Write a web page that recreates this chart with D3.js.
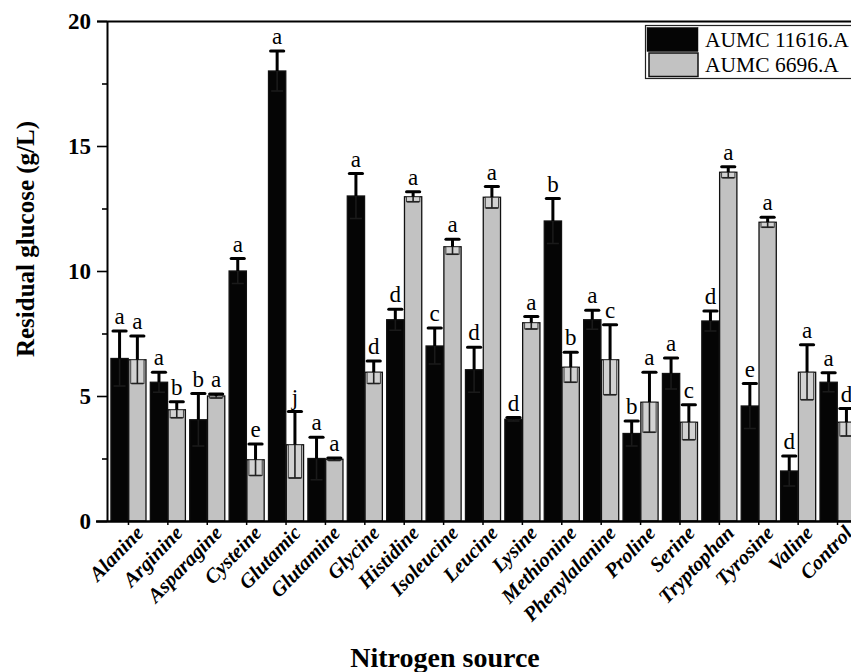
<!DOCTYPE html>
<html><head><meta charset="utf-8">
<script src="https://cdn.jsdelivr.net/npm/d3@7"></script>
<style>body{margin:0;background:#fff} svg{display:block}</style>
</head><body><svg id="chart" width="851" height="672"></svg>
<script>
// Residual glucose per nitrogen source for two fungal strains (mean ± SD, letters = significance groups)
const categories = ["Alanine","Arginine","Asparagine","Cysteine","Glutamic","Glutamine","Glycine","Histidine","Isoleucine","Leucine","Lysine","Methionine","Phenylalanine","Proline","Serine","Tryptophan","Tyrosine","Valine","Control"];
const seriesNames = ["AUMC 11616.A","AUMC 6696.A"];
const strainA = [6.5,5.55,4.05,10.0,18.0,2.5,13.0,8.05,7.0,6.05,4.07,12.0,8.05,3.5,5.9,8.0,4.6,2.0,5.55];
const strainAErr = [1.1,0.4,1.05,0.5,0.8,0.85,0.9,0.42,0.72,0.9,0.07,0.9,0.38,0.5,0.62,0.4,0.9,0.6,0.38];
const strainALetters = ["a","a","b","a","a","a","a","d","c","d","d","b","a","b","a","d","e","d","a"];
const strainB = [6.45,4.45,5.0,2.45,3.05,2.47,5.95,12.97,10.97,12.95,7.93,6.15,6.45,4.75,3.95,13.95,11.95,5.95,3.95];
const strainBErr = [0.95,0.32,0.08,0.63,1.33,0.05,0.45,0.2,0.3,0.43,0.25,0.6,1.4,1.2,0.7,0.22,0.2,1.1,0.55];
const strainBLetters = ["a","b","a","e","j","a","d","a","a","a","a","b","c","a","c","a","a","a","d"];
const yTicks = [0,5,10,15,20];
const yMinorTicks = [2.5,7.5,12.5,17.5];
const seriesColors = ["#050505","#c2c2c2"];

const svg = d3.select("#chart");
const serif = "'Liberation Serif','Times New Roman',serif";
const plotLeft = 107, plotTop = 21, plotBottom = 521;

const x = d3.scaleBand().domain(categories).range([plotLeft, 859]).paddingInner(0.11).paddingOuter(0.1);
const xs = d3.scaleBand().domain([0,1]).range([0, x.bandwidth()]).paddingInner(0.03);
const y = d3.scaleLinear().domain([0,20]).range([plotBottom, plotTop]);

const series = [
  {vals: strainA, err: strainAErr, letters: strainALetters},
  {vals: strainB, err: strainBErr, letters: strainBLetters}
];

// frame top line
svg.append("line").attr("x1", 97).attr("x2", 851).attr("y1", y(20)+0.5).attr("y2", y(20)+0.5)
  .attr("stroke", "#000").attr("stroke-width", 2);

// bars
const g = svg.append("g");
series.forEach((s, si) => {
  categories.forEach((c, i) => {
    const bx = x(c) + xs(si), bw = xs.bandwidth();
    const v = s.vals[i], e = s.err[i];
    const cx = bx + bw / 2;
    g.append("rect").attr("x", bx).attr("y", y(v)).attr("width", bw).attr("height", y(0) - y(v))
      .attr("fill", seriesColors[si]).attr("stroke", "#111").attr("stroke-width", 1.3);
    // lower half of the error bar
    if (si === 1) {
      g.append("rect").attr("x", bx + 2).attr("y", y(v)).attr("width", bw - 4).attr("height", y(v - e) - y(v))
        .attr("fill", "#d2d2d2").attr("stroke", "#333").attr("stroke-width", 0.9);
    }
    g.append("line").attr("x1", cx).attr("x2", cx).attr("y1", y(v)).attr("y2", y(v - e))
      .attr("stroke", si ? "#222" : "#1a1a1a").attr("stroke-width", 1.6);
    g.append("line").attr("x1", cx - 6).attr("x2", cx + 6).attr("y1", y(v - e)).attr("y2", y(v - e))
      .attr("stroke", si ? "#222" : "#1a1a1a").attr("stroke-width", 1.6);
    // upper half
    g.append("line").attr("x1", cx).attr("x2", cx).attr("y1", y(v)).attr("y2", y(v + e))
      .attr("stroke", "#000").attr("stroke-width", 3);
    g.append("line").attr("x1", cx - 6.5).attr("x2", cx + 6.5).attr("y1", y(v + e)).attr("y2", y(v + e))
      .attr("stroke", "#000").attr("stroke-width", 3.2).attr("stroke-linecap", "round");
    g.append("text").attr("x", cx).attr("y", y(v + e) - 7).attr("text-anchor", "middle")
      .attr("font-family", serif).attr("font-size", 23).attr("fill", "#000").text(s.letters[i]);
  });
});

// y axis
const yAxis = d3.axisLeft(y).tickValues(yTicks).tickSize(10).tickSizeOuter(0).tickPadding(6).tickFormat(d3.format("d"));
const ya = svg.append("g").attr("transform", `translate(${plotLeft},0)`).call(yAxis);
ya.select(".domain").attr("stroke-width", 2);
ya.selectAll(".tick line").attr("stroke-width", 1.6);
ya.selectAll("text").attr("font-family", serif).attr("font-size", 23).attr("font-weight", "bold").attr("fill", "#000");
svg.append("g").attr("transform", `translate(${plotLeft},0)`)
  .call(d3.axisLeft(y).tickValues(yMinorTicks).tickSize(5).tickFormat(""))
  .call(a => a.select(".domain").remove())
  .selectAll(".tick line").attr("stroke-width", 1.6);

// x axis
const xAxis = d3.axisBottom(x).tickSize(4).tickSizeOuter(0);
const xa = svg.append("g").attr("transform", `translate(0,${plotBottom})`).call(xAxis);
xa.select(".domain").attr("stroke-width", 2.5).attr("d", `M96,0.5H851`);
xa.selectAll(".tick line").attr("stroke-width", 1.5);
xa.selectAll("text")
  .attr("x", 0).attr("y", 0).attr("dy", 0)
  .attr("font-family", serif).attr("font-size", 20.5).attr("font-weight", "bold").attr("font-style", "italic")
  .attr("fill", "#000").attr("text-anchor", "end")
  .attr("transform", "translate(16,13) rotate(-46)");

// axis titles
svg.append("text").attr("transform", `translate(34,${(plotTop + plotBottom) / 2 - 32}) rotate(-90)`)
  .attr("text-anchor", "middle").attr("font-family", serif).attr("font-size", 25).attr("font-weight", "bold")
  .text("Residual glucose (g/L)");
svg.append("text").attr("x", 445).attr("y", 667).attr("text-anchor", "middle")
  .attr("font-family", serif).attr("font-size", 28).attr("font-weight", "bold").text("Nitrogen source");

// legend
const lg = svg.append("g");
lg.append("rect").attr("x", 645.5).attr("y", 25.5).attr("width", 220).attr("height", 53)
  .attr("fill", "#fff").attr("stroke", "#222").attr("stroke-width", 1.2);
seriesNames.forEach((n, i) => {
  lg.append("rect").attr("x", i ? 649 : 647).attr("y", i ? 53 : 27.5).attr("width", i ? 49 : 51).attr("height", i ? 23.5 : 24)
    .attr("fill", seriesColors[i]).attr("stroke", "#111").attr("stroke-width", i ? 1.5 : 0.5);
  lg.append("text").attr("x", 705).attr("y", 47 + i * 24.5).attr("font-family", serif).attr("font-size", 21.5)
    .attr("fill", "#000").text(n);
});
</script></body></html>
